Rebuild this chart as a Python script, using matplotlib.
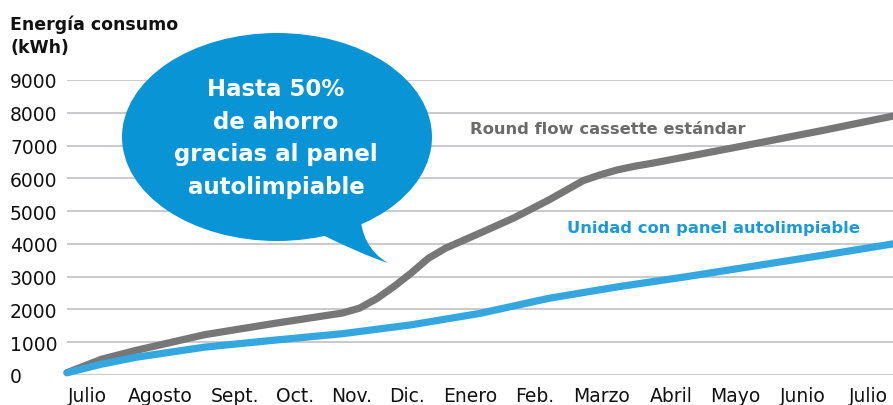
import numpy as np
import matplotlib.pyplot as plt
from matplotlib.patches import Ellipse, PathPatch
from matplotlib.path import Path

# Monthly consumption, July to July (kWh, cumulative)
meses = ["Julio", "Agosto", "Sept.", "Oct.", "Nov.", "Dic.", "Enero",
         "Feb.", "Marzo", "Abril", "Mayo", "Junio", "Julio"]

# standard cassette: extra readings around the winter jump
mes_estandar = [0, 0.5, 1, 2, 3, 3.5, 4, 4.25, 4.5, 4.75, 5, 5.25, 5.5, 6, 6.5,
                7, 7.5, 7.75, 8, 8.25, 8.5, 9, 10, 11, 12]
estandar = [70, 480, 750, 1230, 1570, 1730, 1890, 2040, 2330, 2700, 3110, 3560,
            3870, 4330, 4800, 5340, 5930, 6110, 6260, 6370, 6460, 6660, 7060,
            7470, 7900]

mes_panel = [0, 0.5, 1, 2, 3, 4, 5, 6, 7, 8, 9, 10, 11, 12]
panel = [70, 330, 540, 850, 1060, 1260, 1530, 1880, 2340, 2690, 3000, 3330,
         3660, 4000]

y_ticks = [0, 1000, 2000, 3000, 4000, 5000, 6000, 7000, 8000, 9000]

W, H = 893, 406
GRIS = "#777777"
AZUL = "#35a7df"
BURBUJA = "#0995d5"

plt.rcParams["font.family"] = "DejaVu Sans"

fig = plt.figure(figsize=(W / 100, H / 100), dpi=100)
ax = fig.add_axes([67 / W, 30 / H, (W - 67) / W, (376 - 81) / H])

ax.set_xlim(0, 12)
ax.set_ylim(0, 9000)
for s in ax.spines.values():
    s.set_visible(False)

ax.set_yticks(y_ticks)
ax.set_yticklabels([str(v) for v in y_ticks], ha="left")
ax.tick_params(axis="y", length=0, pad=41, labelsize=13.5, colors="#111111")
ax.grid(axis="y", color="#c9c9ce", linewidth=1.4)
ax.set_axisbelow(True)

# month labels sit as a justified row under the plot
label_x = [0.29, 1.35, 2.44, 3.31, 4.14, 4.94, 5.855, 6.80, 7.76, 8.775, 9.705, 10.69, 11.64]
ax.set_xticks(label_x)
ax.set_xticklabels(meses)
ax.tick_params(axis="x", length=0, pad=8, labelsize=13.5, colors="#111111")

ax.plot(mes_estandar, estandar, color=GRIS, lw=5.2, solid_capstyle="round",
        solid_joinstyle="round", clip_on=False, zorder=3)
ax.plot(mes_panel, panel, color=AZUL, lw=5.2, solid_capstyle="round",
        solid_joinstyle="round", clip_on=False, zorder=3)

# overlay in pixel coordinates for the callout and titles
ov = fig.add_axes([0, 0, 1, 1])
ov.set_xlim(0, W)
ov.set_ylim(H, 0)
ov.axis("off")

ov.text(10, 30, "Energía consumo", fontsize=12.5, fontweight="bold",
        color="#111111", va="baseline")
ov.text(10, 53, "(kWh)", fontsize=12.5, fontweight="bold",
        color="#111111", va="baseline")

ov.add_patch(Ellipse((277, 138), 310, 208, color=BURBUJA, lw=0, zorder=4))
cola = Path([(300, 225), (362, 256), (388, 264), (360, 248), (360, 210), (300, 225)],
            [Path.MOVETO, Path.CURVE3, Path.CURVE3, Path.CURVE3, Path.CURVE3, Path.CLOSEPOLY])
ov.add_patch(PathPatch(cola, color=BURBUJA, lw=0, zorder=4))

for txt, yb in zip(["Hasta 50%", "de ahorro", "gracias al panel", "autolimpiable"],
                   [96, 129, 161, 194]):
    ov.text(276, yb, txt, fontsize=16.5, fontweight="bold", color="white",
            ha="center", va="baseline", zorder=5)

ov.text(470, 134, "Round flow cassette estándar", fontsize=11.8, fontweight="bold",
        color="#6b6b6b", va="baseline")
ov.text(567, 233, "Unidad con panel autolimpiable", fontsize=11.8, fontweight="bold",
        color="#1b9adb", va="baseline")

fig.savefig("out.png", dpi=100)
